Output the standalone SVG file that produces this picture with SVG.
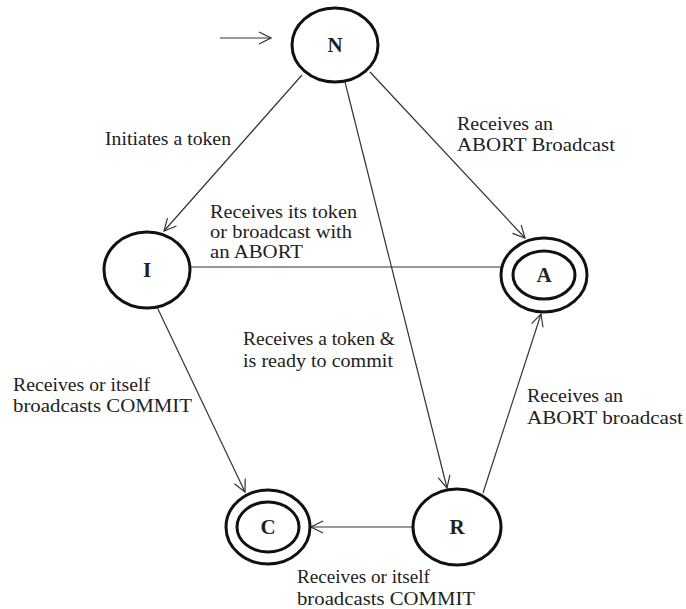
<svg xmlns="http://www.w3.org/2000/svg" width="686" height="609" viewBox="0 0 686 609">
<style>
.node{fill:none;stroke:#111;stroke-width:3}
.lbl{font-family:"Liberation Serif","Times New Roman",serif;font-size:18px;fill:#222}
.id{font-family:"Liberation Serif","Times New Roman",serif;font-size:21px;font-weight:bold;fill:#222;text-anchor:middle}
.edge{stroke:#333;stroke-width:1.2;fill:none}
.arr{marker-end:url(#open)}
</style>
<defs>
<marker id="open" markerUnits="userSpaceOnUse" viewBox="0 0 14 14" refX="13" refY="7" markerWidth="14" markerHeight="14" orient="auto">
<path d="M1,1 L13,7 L1,13" fill="none" stroke="#333" stroke-width="1.2"/>
</marker>
</defs>
<rect width="686" height="609" fill="#fff"/>
<g id="connectors">
<line class="edge arr" x1="220" y1="38" x2="271" y2="38"/>
<line class="edge arr" x1="302" y1="75" x2="164" y2="231"/>
<line class="edge arr" x1="370" y1="72" x2="525" y2="238"/>
<line class="edge arr" x1="345" y1="82" x2="447" y2="488"/>
<line class="edge" x1="190" y1="267" x2="501" y2="267"/>
<line class="edge arr" x1="157" y1="307" x2="245" y2="492"/>
<line class="edge arr" x1="413" y1="527" x2="311" y2="527"/>
<line class="edge arr" x1="483" y1="493" x2="541" y2="314"/>
</g>
<g id="node-N"><ellipse class="node" cx="335" cy="45" rx="43" ry="37"/><text class="id" x="335" y="52">N</text></g>
<g id="node-I"><ellipse class="node" cx="147" cy="270" rx="43" ry="38"/><text class="id" x="147" y="277">I</text></g>
<g id="node-A"><ellipse class="node" cx="544" cy="275" rx="43" ry="37"/><ellipse class="node" cx="544" cy="275" rx="31" ry="24"/><text class="id" x="544" y="282">A</text></g>
<g id="node-C"><ellipse class="node" cx="268" cy="527" rx="42" ry="37"/><ellipse class="node" cx="268" cy="527" rx="31" ry="25"/><text class="id" x="268" y="534">C</text></g>
<g id="node-R"><ellipse class="node" cx="457" cy="527" rx="44" ry="38"/><text class="id" x="457" y="534">R</text></g>
<g id="labels">
<text class="lbl" x="105" y="145" textLength="126" lengthAdjust="spacingAndGlyphs">Initiates a token</text>
<text class="lbl" x="457" y="130" textLength="96" lengthAdjust="spacingAndGlyphs">Receives an</text>
<text class="lbl" x="457" y="151" textLength="158" lengthAdjust="spacingAndGlyphs">ABORT Broadcast</text>
<text class="lbl" x="210" y="218" textLength="147" lengthAdjust="spacingAndGlyphs">Receives its token</text>
<text class="lbl" x="210" y="238" textLength="142" lengthAdjust="spacingAndGlyphs">or broadcast with</text>
<text class="lbl" x="210" y="258" textLength="93" lengthAdjust="spacingAndGlyphs">an ABORT</text>
<text class="lbl" x="243" y="345" textLength="152" lengthAdjust="spacingAndGlyphs">Receives a token &amp;</text>
<text class="lbl" x="243" y="367" textLength="150" lengthAdjust="spacingAndGlyphs">is ready to commit</text>
<text class="lbl" x="13" y="391" textLength="137" lengthAdjust="spacingAndGlyphs">Receives or itself</text>
<text class="lbl" x="13" y="412" textLength="179" lengthAdjust="spacingAndGlyphs">broadcasts COMMIT</text>
<text class="lbl" x="527" y="402" textLength="96" lengthAdjust="spacingAndGlyphs">Receives an</text>
<text class="lbl" x="527" y="424" textLength="156" lengthAdjust="spacingAndGlyphs">ABORT broadcast</text>
<text class="lbl" x="297" y="583" textLength="133" lengthAdjust="spacingAndGlyphs">Receives or itself</text>
<text class="lbl" x="297" y="605" textLength="178" lengthAdjust="spacingAndGlyphs">broadcasts COMMIT</text>
</g>
</svg>
